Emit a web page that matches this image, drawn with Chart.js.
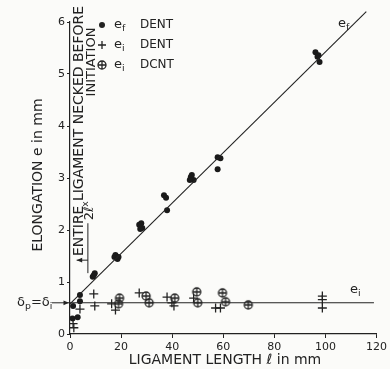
<!DOCTYPE html>
<html>
<head>
<meta charset="utf-8">
<script src="https://cdn.jsdelivr.net/npm/chart.js@4.4.0/dist/chart.umd.min.js"></script>
<style>
  html, body { margin: 0; padding: 0; background: #fbfbf9; }
  #wrap { width: 390px; height: 369px; }
</style>
</head>
<body>
<div id="wrap"><canvas id="myChart" width="390" height="369"></canvas></div>
<script>
// e_f DENT (gefuellte Punkte)
const efDentX = [1.2, 3.9, 3.9, 1.0, 3.0, 8.9, 9.7, 9.3, 17.4, 18.6, 17.8, 19.0, 27.1, 28.3, 27.9, 27.5, 36.8, 37.6, 38.0, 47.3, 48.4, 46.9, 47.7, 57.8, 58.9, 57.8, 96.1, 96.9, 97.7, 97.3];
const efDentY = [0.54, 0.75, 0.63, 0.30, 0.32, 1.10, 1.17, 1.13, 1.48, 1.44, 1.52, 1.48, 2.10, 2.04, 2.13, 2.02, 2.67, 2.62, 2.38, 3.02, 2.96, 2.96, 3.06, 3.40, 3.38, 3.17, 5.42, 5.33, 5.23, 5.36];

// e_i DENT (Kreuze)
const eiDentX = [1.2, 1.5, 3.9, 9.3, 9.7, 16.3, 17.8, 27.1, 38.0, 39.9, 40.7, 48.4, 57.0, 58.9, 98.8, 98.8, 98.8];
const eiDentY = [0.20, 0.12, 0.48, 0.77, 0.54, 0.58, 0.46, 0.79, 0.71, 0.60, 0.54, 0.69, 0.50, 0.50, 0.73, 0.66, 0.50];

// e_i DCNT (Kreis mit Kreuz)
const eiDcntX = [19.4, 19.0, 29.8, 31.0, 41.0, 49.6, 50.0, 59.7, 60.9, 69.8];
const eiDcntY = [0.69, 0.58, 0.73, 0.60, 0.69, 0.81, 0.60, 0.79, 0.62, 0.56];

// Ausgleichsgeraden
const efLineX = [0, 116];
const efLineY = [0.58, 6.2];
const eiLineX = [0, 119];
const eiLineY = [0.6, 0.6];

// Achsen
const xTicks = [0, 20, 40, 60, 80, 100, 120];
const yTicks = [0, 1, 2, 3, 4, 5, 6];

const FONT = '"DejaVu Sans", sans-serif';
const ink = '#222222';

function toPoints(xs, ys) {
    return xs.map((x, i) => ({ x: x, y: ys[i] }));
}

// Kreis mit Kreuz als Punktstil
function circlePlus(r) {
    const c = document.createElement('canvas');
    const s = 2 * r + 4;
    c.width = s; c.height = s;
    const g = c.getContext('2d');
    const m = s / 2;
    g.strokeStyle = ink;
    g.lineWidth = 1.3;
    g.beginPath(); g.arc(m, m, r, 0, Math.PI * 2); g.stroke();
    g.beginPath();
    g.moveTo(m - r, m); g.lineTo(m + r, m);
    g.moveTo(m, m - r); g.lineTo(m, m + r);
    g.stroke();
    return c;
}
const cpStyle = circlePlus(4);

// Text mit Tief-/Hochstellung
function drawParts(ctx, parts, x, y, size, align) {
    let w = 0;
    parts.forEach(p => {
        ctx.font = (p[1] ? size * 0.72 : size) + 'px ' + FONT;
        w += ctx.measureText(p[0]).width;
    });
    let cx = align === 'center' ? x - w / 2 : x;
    ctx.textAlign = 'left';
    ctx.textBaseline = 'middle';
    parts.forEach(p => {
        const s = p[1] ? size * 0.72 : size;
        ctx.font = s + 'px ' + FONT;
        const dy = p[1] === 'sub' ? size * 0.3 : (p[1] === 'sup' ? -size * 0.35 : 0);
        ctx.fillText(p[0], cx, y + dy);
        cx += ctx.measureText(p[0]).width;
    });
}

function rotated(ctx, x, y, fn) {
    ctx.save();
    ctx.translate(x, y);
    ctx.rotate(-Math.PI / 2);
    fn();
    ctx.restore();
}

function arrow(ctx, x1, y1, x2, y2) {
    ctx.beginPath(); ctx.moveTo(x1, y1); ctx.lineTo(x2, y2); ctx.stroke();
    const a = Math.atan2(y2 - y1, x2 - x1);
    ctx.beginPath();
    ctx.moveTo(x2, y2);
    ctx.lineTo(x2 - 6 * Math.cos(a - 0.4), y2 - 6 * Math.sin(a - 0.4));
    ctx.lineTo(x2 - 6 * Math.cos(a + 0.4), y2 - 6 * Math.sin(a + 0.4));
    ctx.closePath();
    ctx.fill();
}

// Beschriftungen, Legende und Pfeile
const annotations = {
    id: 'annotations',
    afterDatasetsDraw(chart) {
        const { ctx, scales: { x, y } } = chart;
        ctx.save();
        ctx.fillStyle = ink;
        ctx.strokeStyle = ink;
        ctx.lineWidth = 1;

        // Achsentitel
        rotated(ctx, 38, 175, () => drawParts(ctx, [['ELONGATION e in mm']], 0, 0, 14, 'center'));
        drawParts(ctx, [['LIGAMENT LENGTH ℓ in mm']], 225, 360, 14, 'center');

        // Senkrechter Hinweis
        rotated(ctx, 79, 131, () => drawParts(ctx, [['ENTIRE LIGAMENT NECKED BEFORE']], 0, 0, 14, 'center'));
        rotated(ctx, 92, 62, () => drawParts(ctx, [['INITIATION']], 0, 0, 13, 'center'));

        // 2l* Markierung
        const mx = x.getPixelForValue(7);
        ctx.beginPath();
        ctx.moveTo(mx, y.getPixelForValue(1.17));
        ctx.lineTo(mx, y.getPixelForValue(2.13));
        ctx.stroke();
        arrow(ctx, mx, y.getPixelForValue(1.42), x.getPixelForValue(2.6), y.getPixelForValue(1.42));
        rotated(ctx, mx + 2, y.getPixelForValue(2.37), () => drawParts(ctx, [['2ℓ'], ['x', 'sup']], 0, 0, 13, 'center'));

        // delta_p = delta_i
        const yd = y.getPixelForValue(0.6);
        drawParts(ctx, [['δ'], ['p', 'sub'], ['='], ['δ'], ['i', 'sub']], 17, yd, 13, 'left');
        arrow(ctx, 52, yd, x.left - 1, yd);

        // Linienbeschriftungen
        drawParts(ctx, [['e'], ['f', 'sub']], 338, 24, 13, 'left');
        drawParts(ctx, [['e'], ['i', 'sub']], 350, 290, 13, 'left');

        // Legende
        const lx = 102;
        const rows = [25, 45, 65];
        ctx.beginPath(); ctx.arc(lx, rows[0], 3, 0, Math.PI * 2); ctx.fill();
        ctx.lineWidth = 1.3;
        ctx.beginPath();
        ctx.moveTo(lx - 4, rows[1]); ctx.lineTo(lx + 4, rows[1]);
        ctx.moveTo(lx, rows[1] - 4); ctx.lineTo(lx, rows[1] + 4);
        ctx.stroke();
        ctx.drawImage(cpStyle, lx - cpStyle.width / 2, rows[2] - cpStyle.height / 2);
        drawParts(ctx, [['e'], ['f', 'sub']], lx + 12, rows[0], 13, 'left');
        drawParts(ctx, [['e'], ['i', 'sub']], lx + 12, rows[1], 13, 'left');
        drawParts(ctx, [['e'], ['i', 'sub']], lx + 12, rows[2], 13, 'left');
        drawParts(ctx, [['DENT']], lx + 38, rows[0], 12, 'left');
        drawParts(ctx, [['DENT']], lx + 38, rows[1], 12, 'left');
        drawParts(ctx, [['DCNT']], lx + 38, rows[2], 12, 'left');
        ctx.restore();
    }
};

const ctx = document.getElementById('myChart').getContext('2d');
new Chart(ctx, {
    type: 'scatter',
    data: {
        datasets: [
            {
                type: 'line',
                data: toPoints(efLineX, efLineY),
                borderColor: ink,
                borderWidth: 1.1,
                pointRadius: 0,
                clip: false
            },
            {
                type: 'line',
                data: toPoints(eiLineX, eiLineY),
                borderColor: ink,
                borderWidth: 1.1,
                pointRadius: 0,
                clip: false
            },
            {
                data: toPoints(efDentX, efDentY),
                pointStyle: 'circle',
                pointRadius: 3,
                backgroundColor: '#1a1a1a',
                borderWidth: 0
            },
            {
                data: toPoints(eiDentX, eiDentY),
                pointStyle: 'cross',
                pointRadius: 4.5,
                borderColor: ink,
                borderWidth: 1.3
            },
            {
                data: toPoints(eiDcntX, eiDcntY),
                pointStyle: cpStyle
            }
        ]
    },
    options: {
        responsive: false,
        animation: false,
        devicePixelRatio: 1,
        layout: { padding: { top: 22, right: 10, left: 0, bottom: 0 } },
        plugins: { legend: { display: false }, tooltip: { enabled: false } },
        scales: {
            x: {
                type: 'linear',
                min: 0,
                max: 120,
                afterBuildTicks: s => { s.ticks = xTicks.map(v => ({ value: v })); },
                afterFit: s => { s.height = 35; },
                ticks: { color: ink, font: { family: FONT, size: 11 }, padding: 3 },
                grid: { drawOnChartArea: false, tickLength: 4, color: ink },
                border: { color: ink, width: 1.2 }
            },
            y: {
                min: 0,
                max: 6,
                afterBuildTicks: s => { s.ticks = yTicks.map(v => ({ value: v })); },
                afterFit: s => { s.width = 70; },
                ticks: { color: ink, font: { family: FONT, size: 11 }, padding: 2 },
                grid: { drawOnChartArea: false, tickLength: 3, color: ink },
                border: { color: ink, width: 1.2 }
            }
        }
    },
    plugins: [annotations]
});
</script>
</body>
</html>
